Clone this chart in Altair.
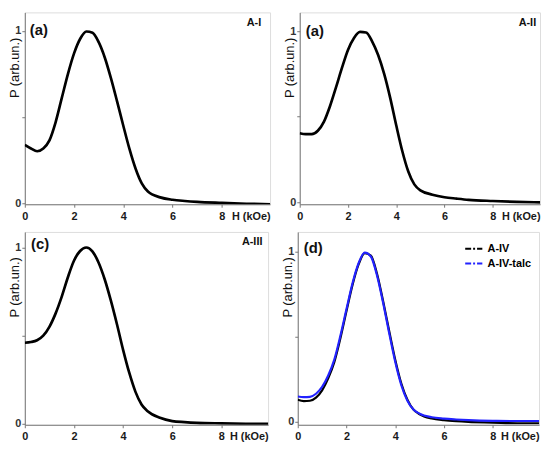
import altair as alt
import pandas as pd

FONT = "Liberation Sans"

# field values H (kOe)
H = [0, 0.25, 0.5, 0.75, 1.0, 1.25, 1.5, 1.75, 2.0, 2.25, 2.5, 2.75, 3.0, 3.25,
     3.5, 3.75, 4.0, 4.25, 4.5, 4.75, 5.0, 5.5, 6.0, 6.5, 7.0, 8.0, 9.0, 10.0]

P_A1 = [0.339, 0.318, 0.302, 0.318, 0.365, 0.47, 0.61, 0.75, 0.87, 0.955, 0.997, 0.99, 0.935, 0.845,
        0.725, 0.59, 0.45, 0.315, 0.20, 0.115, 0.068, 0.034, 0.02, 0.013, 0.008, 0.002, -0.003, -0.006]
P_A2 = [0.404, 0.398, 0.398, 0.418, 0.47, 0.56, 0.67, 0.785, 0.89, 0.96, 0.995, 0.992, 0.94, 0.86,
        0.75, 0.61, 0.45, 0.30, 0.18, 0.105, 0.07, 0.045, 0.03, 0.022, 0.015, 0.008, 0.003, 0.0]
P_A3 = [0.46, 0.464, 0.474, 0.50, 0.55, 0.625, 0.72, 0.83, 0.925, 0.98, 1.0, 0.978, 0.915, 0.82,
        0.70, 0.565, 0.42, 0.29, 0.183, 0.11, 0.072, 0.035, 0.016, 0.01, 0.006, 0.003, 0.001, 0.0]
P_A4 = [0.13, 0.122, 0.124, 0.142, 0.185, 0.255, 0.35, 0.49, 0.65, 0.805, 0.925, 0.99, 0.975, 0.87,
        0.71, 0.535, 0.365, 0.225, 0.13, 0.072, 0.045, 0.02, 0.01, 0.004, 0.0, -0.004, -0.008, -0.008]
P_A4T = [0.149, 0.145, 0.147, 0.165, 0.205, 0.272, 0.365, 0.505, 0.662, 0.815, 0.932, 0.993, 0.97, 0.86,
         0.70, 0.522, 0.352, 0.215, 0.124, 0.072, 0.048, 0.027, 0.019, 0.014, 0.01, 0.006, 0.005, 0.005]

X_TICKS = [0, 1, 2, 3, 4, 5, 6, 7, 8, 9]
Y_TICKS = [0, 0.5, 1]

GRAY = "#777777"


def panel(series_list, label, label_pos, name, name_pos, xmax, ydom, w, h, legend=False):
    rows = []
    for sname, vals in series_list:
        for hx, p in zip(H, vals):
            rows.append({"H": hx, "P": p, "series": sname})
    df = pd.DataFrame(rows)

    xaxis = alt.Axis(values=X_TICKS, format="d",
                     labelExpr="datum.value % 2 == 0 ? datum.label : ''",
                     tickSize=3, labelPadding=3, labelFlush=False, grid=False,
                     domainColor=GRAY, tickColor=GRAY, labelColor="#1a1a1a",
                     labelFont=FONT, labelFontSize=11, labelFontWeight="bold",
                     title="H (kOe)", titleX=w, titleY=6, titleAlign="right",
                     titleBaseline="top", titleFont=FONT, titleFontSize=11,
                     titleFontWeight="bold", titleColor="#1a1a1a")
    yaxis = alt.Axis(values=Y_TICKS,
                     labelExpr="datum.value == 0.5 ? '' : (datum.value == 0 ? '0' : '1')",
                     tickSize=3, labelPadding=1, labelFlush=False, grid=False,
                     domainColor=GRAY, tickColor=GRAY, labelColor="#333333",
                     labelFont=FONT, labelFontSize=11, labelFontWeight="bold",
                     title="P (arb.un.)", titleX=-3, titleY=25, titleAngle=270,
                     titleAlign="right", titleBaseline="bottom", titleFont=FONT,
                     titleFontSize=13, titleFontWeight="normal", titleColor="#111111")

    xs = alt.Scale(domain=[0, xmax], nice=False, zero=False)
    ys = alt.Scale(domain=ydom, nice=False, zero=False)

    if legend:
        color = alt.Color("series:N",
                          scale=alt.Scale(domain=[s for s, _ in series_list],
                                          range=["#000000", "#2222ff"]),
                          legend=alt.Legend(title=None, orient="top-right", offset=7,
                                            padding=0, symbolType="stroke",
                                            symbolStrokeWidth=2, symbolSize=300,
                                            symbolDash=[6, 2, 2, 2],
                                            labelFont=FONT, labelFontSize=11,
                                            labelFontWeight="bold", labelColor="#000000",
                                            rowPadding=0, labelOffset=4))
        lines = alt.Chart(df).mark_line(strokeWidth=2.2, interpolate="monotone", clip=True).encode(
            x=alt.X("H:Q", scale=xs, axis=xaxis),
            y=alt.Y("P:Q", scale=ys, axis=yaxis),
            color=color,
            detail="series:N",
        )
    else:
        lines = alt.Chart(df).mark_line(color="#000000", strokeWidth=2.7,
                                        interpolate="monotone", clip=True).encode(
            x=alt.X("H:Q", scale=xs, axis=xaxis),
            y=alt.Y("P:Q", scale=ys, axis=yaxis),
        )

    lab_df = pd.DataFrame({"H": [label_pos[0]], "P": [label_pos[1]], "t": [label]})
    labels = alt.Chart(lab_df).mark_text(align="left", baseline="middle", font=FONT,
                                         fontSize=15, fontWeight="bold", color="#111111").encode(
        x=alt.X("H:Q", scale=xs), y=alt.Y("P:Q", scale=ys), text="t:N")
    layers = [lines, labels]
    if name:
        nm_df = pd.DataFrame({"H": [name_pos[0]], "P": [name_pos[1]], "t": [name]})
        names = alt.Chart(nm_df).mark_text(align="right", baseline="middle", font=FONT,
                                           fontSize=11, fontWeight="bold", color="#111111").encode(
            x=alt.X("H:Q", scale=xs), y=alt.Y("P:Q", scale=ys), text="t:N")
        layers.append(names)
    return alt.layer(*layers).properties(width=w, height=h)


pa = panel([("A-I", P_A1)], "(a)", (0.2, 1.006), "A-I", (9.6, 1.045),
           9.96, [-0.006, 1.108], 248, 194)
pb = panel([("A-II", P_A2)], "(a)", (0.25, 1.0), "A-II", (9.8, 1.045),
           9.96, [-0.011, 1.109], 243, 194)
pc = panel([("A-III", P_A3)], "(c)", (0.25, 1.02), "A-III", (9.67, 1.033),
           9.9, [-0.005, 1.088], 246, 195)
pd_ = panel([("A-IV", P_A4), ("A-IV-talc", P_A4T)], "(d)", (0.25, 1.017), None, None,
            9.9, [-0.017, 1.114], 244, 195, legend=True)

top = alt.hconcat(pa, pb, spacing=12).resolve_legend(color="independent")
bottom = alt.hconcat(pc, pd_, spacing=12).resolve_legend(color="independent")
chart = alt.vconcat(top, bottom, spacing=9).resolve_legend(color="independent").properties(
    padding={"left": 0, "top": 1, "right": 1, "bottom": 1}
).configure_view(stroke=GRAY, strokeWidth=1).configure(background="white")

chart.save("out.html", embed_options={"renderer": "svg", "actions": False})
